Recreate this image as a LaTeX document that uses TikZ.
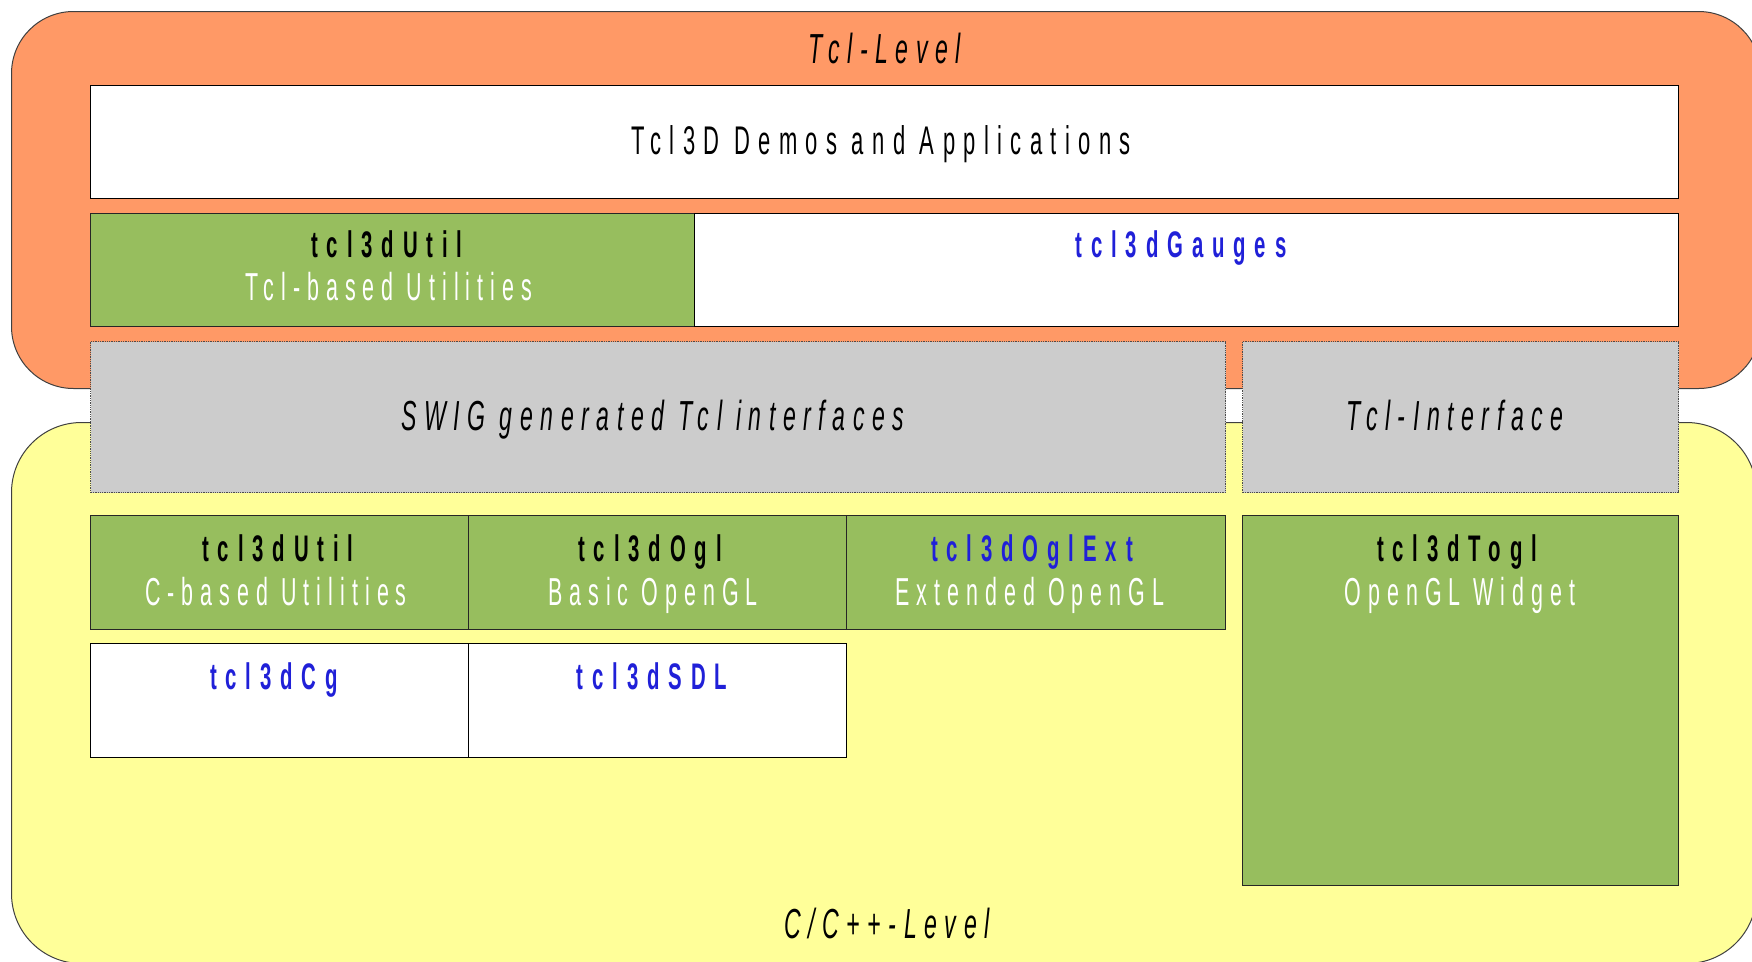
\documentclass[tikz,border=0pt]{standalone}
\usepackage{fontspec}
\setmainfont[FakeStretch=0.55,LetterSpace=22]{Liberation Sans}
\definecolor{torange}{RGB}{255,153,102}
\definecolor{tyellow}{RGB}{255,255,153}
\definecolor{tgreen}{RGB}{151,190,94}
\definecolor{tgray}{RGB}{204,204,204}
\definecolor{tblue}{RGB}{32,32,216}
\tikzset{
  box/.style={rectangle, anchor=north west, inner sep=0pt, line width=1.3pt},
  wbox/.style={box, fill=white, draw=black},
  gbox/.style={box, fill=tgreen, draw=black!85},
  dbox/.style={box, fill=tgray, draw=black!70, densely dotted, line width=1.2pt},
  outer/.style={rectangle, anchor=north west, inner sep=0pt, draw=black!75, line width=1pt},
  lbl/.style={anchor=base, inner sep=0pt},
  nm/.style={lbl, font=\fontsize{37}{40}\selectfont\bfseries\addfontfeatures{LetterSpace=24}},
  sub/.style={lbl, text=white, font=\fontsize{39}{42}\selectfont\addfontfeatures{LetterSpace=18}},
  lvl/.style={lbl, font=\fontsize{42}{46}\selectfont\itshape\addfontfeatures{LetterSpace=18}},
  big/.style={lbl, font=\fontsize{40}{44}\selectfont\addfontfeatures{LetterSpace=21}},
}
\begin{document}
\begin{tikzpicture}[x=1pt,y=-1pt]
\useasboundingbox (0,0) rectangle (1752,961);
\clip (0,0) rectangle (1752,961);
\fill[white] (0,0) rectangle (1752,961);
% outer levels
\node[outer, fill=torange, rounded corners=62pt, minimum width=1749pt, minimum height=377pt] (tcllevel) at (11,11) {};
\node[outer, fill=tyellow, rounded corners=70pt, minimum width=1745pt, minimum height=541pt] (clevel) at (11,422) {};
% Tcl level boxes
\node[wbox, minimum width=1588pt, minimum height=113pt] (demos) at (90,85) {};
\node[gbox, minimum width=604pt, minimum height=113pt] (utiltcl) at (90,213) {};
\node[wbox, minimum width=984pt, minimum height=113pt] (gauges) at (694,213) {};
% interfaces
\node[dbox, minimum width=1135pt, minimum height=151pt] (swig) at (90,341) {};
\node[dbox, minimum width=436pt, minimum height=151pt] (tclif) at (1242,341) {};
% C level boxes
\node[gbox, minimum width=378pt, minimum height=114pt] (utilc) at (90,515) {};
\node[gbox, minimum width=378pt, minimum height=114pt] (ogl) at (468,515) {};
\node[gbox, minimum width=379pt, minimum height=114pt] (oglext) at (846,515) {};
\node[gbox, minimum width=436pt, minimum height=370pt] (togl) at (1242,515) {};
\node[wbox, minimum width=378pt, minimum height=114pt] (cg) at (90,643) {};
\node[wbox, minimum width=378pt, minimum height=114pt] (sdl) at (468,643) {};
% texts
\node[lvl] (tcllevelt) at (885,63) {Tcl-Level};
\node[big] (demost) at (881,154) {Tcl3D Demos and Applications};
\node[nm] (utiltclt) at (387,257) {tcl3dUtil};
\node[sub] (utiltcls) at (389,300) {Tcl-based Utilities};
\node[nm, text=tblue] (gaugest) at (1181,257) {tcl3dGauges};
\node[lvl] (swigt) at (653,430) {SWIG generated Tcl interfaces};
\node[lvl] (tclift) at (1455,430) {Tcl-Interface};
\node[nm] (utilct) at (278,561) {tcl3dUtil};
\node[sub] (utilcs) at (276,605) {C-based Utilities};
\node[nm] (oglt) at (650,561) {tcl3dOgl};
\node[sub] (ogls) at (653,605) {Basic OpenGL};
\node[nm, text=tblue] (oglextt) at (1032,561) {tcl3dOglExt};
\node[sub] (oglexts) at (1030,605) {Extended OpenGL};
\node[nm] (toglt) at (1457,561) {tcl3dTogl};
\node[sub] (togls) at (1460,605) {OpenGL Widget};
\node[nm, text=tblue] (cgt) at (274,689) {tcl3dCg};
\node[nm, text=tblue] (sdlt) at (652,689) {tcl3dSDL};
\node[lvl] (clevelt) at (887,938) {C/C++-Level};
\end{tikzpicture}
\end{document}
